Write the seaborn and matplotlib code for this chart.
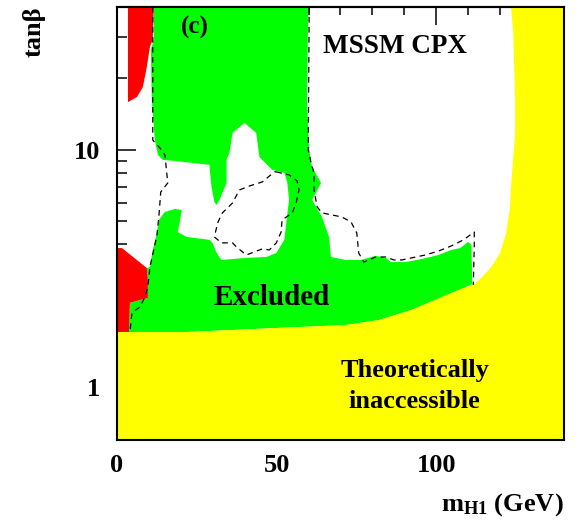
import numpy as np
import pandas as pd
import seaborn as sns
import matplotlib.pyplot as plt
from matplotlib.ticker import FixedLocator, FixedFormatter, MultipleLocator, LogLocator, NullFormatter

# boundaries: m_H1 (GeV) vs tan(beta)
yellow_x = [0, 140, 140, 123.4, 124.1, 124.7, 124.7, 123.4, 123.1, 121.9, 120.0, 117.2, 114.1, 111.6,
            108.5, 92.3, 82.0, 71.7, 50.8, 21.8, 0]
yellow_y = [0.6, 0.6, 40, 40, 31.1, 16.2, 11.8, 6.98, 5.75, 4.47, 3.68, 3.21, 2.89, 2.70,
            2.62, 2.12, 1.92, 1.83, 1.78, 1.71, 1.71]

green_x = [11.5, 59.9, 59.5, 60.2, 61.1, 63.9, 61.1, 64.2, 66.4, 67.0, 71.7, 76.4, 81.0, 84.2, 85.7,
           90.4, 95.4, 100.7, 104.7, 107.5, 110.0, 111.0, 111.3,
           108.5, 92.3, 82.0, 71.7, 50.8, 21.8, 3.7,
           4.05, 9.66, 9.66, 9.35, 10.3, 11.2, 12.5, 13.1, 15.0, 18.1, 20.3, 19.6, 19.0, 21.8,
           29.0, 29.9, 31.2, 32.7, 40.5, 46.8, 49.9, 52.4, 53.3, 53.9, 53.3, 52.4, 48.6, 44.6,
           43.6, 39.9, 36.2, 35.2, 34.3, 34.3, 32.1, 31.2, 30.5, 29.6, 29.0, 29.0,
           18.1, 14.3, 12.8, 11.85, 10.9, 10.6, 11.5]
green_y = [40, 40, 16.2, 10.0, 8.48, 7.26, 6.16, 5.22, 4.30, 3.54, 3.44, 3.44, 3.58, 3.51, 3.37,
           3.37, 3.47, 3.61, 3.79, 3.86, 4.10, 3.98, 2.72,
           2.62, 2.12, 1.92, 1.83, 1.78, 1.71, 1.71,
           2.27, 2.38, 2.83, 3.18, 3.21, 3.79, 4.47, 5.07, 5.48, 5.64, 5.59, 4.92, 4.51, 4.30,
           4.18, 4.06, 3.68, 3.44, 3.51, 3.54, 3.68, 4.18, 5.32, 6.16, 7.33, 8.0, 8.24, 9.34,
           11.8, 13.0, 11.8, 9.71, 9.08, 7.26, 6.16, 5.86, 6.04, 6.98, 8.40, 8.65,
           8.99, 9.08, 9.53, 11.0, 16.2, 26.4, 29.1]

red_top_x = [3.43, 11.5, 11.2, 10.3, 9.35, 8.1, 6.23, 3.43]
red_top_y = [40, 40, 29.1, 27.2, 22.4, 18.4, 16.7, 15.9]
red_low_x = [0, 1.56, 9.35, 9.66, 9.66, 4.05, 3.74, 0]
red_low_y = [3.86, 3.86, 3.18, 2.83, 2.38, 2.27, 1.71, 1.71]

# dashed expected-limit contours
dash_a_x = [11.2, 11.2, 13.4, 15.0, 15.9, 13.7, 13.1, 12.5, 11.85, 10.3, 9.66, 8.73, 7.17, 4.68, 4.05]
dash_a_y = [40, 11.0, 10.2, 9.53, 7.26, 6.65, 5.22, 4.38, 3.98, 3.21, 2.65, 2.40, 2.18, 2.06, 1.71]
dash_b_x = [49.9, 53.9, 56.4, 57.0, 56.1, 54.9, 51.7, 51.4, 49.9, 47.7, 45.5, 40.5, 37.4, 36.2,
            32.7, 30.5, 31.5, 33.0, 36.2, 38.3, 41.5, 45.5, 49.3, 49.9]
dash_b_y = [8.08, 7.85, 7.40, 6.78, 5.98, 5.43, 5.07, 4.51, 4.06, 3.79, 3.83, 3.61, 3.90, 4.06,
            4.06, 4.30, 4.92, 5.43, 5.98, 6.78, 7.05, 7.33, 8.08, 8.08]
dash_c_x = [60.2, 59.9, 60.8, 61.7, 61.7, 62.7, 64.2, 70.4, 73.3, 75.1, 75.7, 77.3, 81.0, 84.2,
            86.7, 89.2, 92.3, 96.6, 100.7, 104.7, 108.5, 111.9, 111.9, 111.6]
dash_c_y = [40, 10.0, 8.81, 8.0, 6.78, 5.75, 5.43, 5.22, 4.97, 4.47, 3.68, 3.37, 3.54, 3.54,
            3.44, 3.44, 3.51, 3.61, 3.75, 3.94, 4.18, 4.51, 3.90, 2.70]

sns.set_style("ticks")
plt.rcParams['font.family'] = ['Liberation Serif', 'DejaVu Serif']
plt.rcParams['font.weight'] = 'bold'
plt.rcParams['axes.labelweight'] = 'bold'
plt.rcParams['mathtext.fontset'] = 'custom'
plt.rcParams['mathtext.rm'] = 'Liberation Serif:bold'
plt.rcParams['mathtext.it'] = 'Liberation Serif:bold'
plt.rcParams['mathtext.bf'] = 'Liberation Serif:bold'
for k in ['text.color', 'axes.labelcolor', 'xtick.color', 'ytick.color', 'axes.edgecolor']:
    plt.rcParams[k] = 'black'

fig = plt.figure(figsize=(5.81, 5.22), dpi=100)
ax = fig.add_axes([0.2014, 0.1571, 0.7693, 0.8295])

ax.fill(green_x, green_y, color='#00ff00', lw=0)
ax.fill(red_top_x, red_top_y, color='#ff0000', lw=0)
ax.fill(red_low_x, red_low_y, color='#ff0000', lw=0)
ax.fill(yellow_x, yellow_y, color='#ffff00', lw=0)

for xs, ys in [(dash_a_x, dash_a_y), (dash_b_x, dash_b_y), (dash_c_x, dash_c_y)]:
    d = pd.DataFrame({'m': xs, 'tb': ys})
    sns.lineplot(data=d, x='m', y='tb', sort=False, estimator=None, ax=ax,
                 color='black', lw=0.9, dashes=False)
for ln in ax.lines:
    ln.set_dashes((4.5, 3.5))

ax.set_yscale('log')
ax.set_xlim(0, 140)
ax.set_ylim(0.6, 40)

# bottom axis: long ticks every 20, short every 5, labels at 0/50/100
xt = [0, 20, 40, 50, 60, 80, 100, 120, 140]
ax.xaxis.set_major_locator(FixedLocator(xt))
ax.xaxis.set_major_formatter(FixedFormatter(['0', '', '', '50', '', '', '100', '', '']))
ax.xaxis.set_minor_locator(MultipleLocator(5))
ax.yaxis.set_major_locator(FixedLocator([1, 10]))
ax.yaxis.set_major_formatter(FixedFormatter(['1', '10']))
ax.yaxis.set_minor_locator(LogLocator(base=10, subs=np.arange(2, 10)))
ax.yaxis.set_minor_formatter(NullFormatter())

ax.tick_params(axis='x', which='major', direction='in', length=9.4, width=1.1, labelsize=19, pad=10, top=False)
ax.tick_params(axis='x', which='minor', direction='in', length=5, width=1.1, top=False)
ax.tick_params(axis='y', which='major', direction='in', length=13.7, width=1.1, labelsize=19, pad=12, right=True)
ax.tick_params(axis='y', which='minor', direction='in', length=7.5, width=1.1, right=True)
ax.xaxis.get_major_ticks()[3].tick1line.set_markersize(5)

top = ax.secondary_xaxis('top')
top.xaxis.set_major_locator(FixedLocator([50, 100]))
top.xaxis.set_minor_locator(MultipleLocator(10))
top.tick_params(which='major', direction='in', length=13, width=1.1, labeltop=False)
top.tick_params(which='minor', direction='in', length=5.8, width=1.1)
top.spines['top'].set_linewidth(1.5)

for s in ax.spines.values():
    s.set_linewidth(1.5)
    s.set_visible(True)

ax.set_xlabel(r'$\mathrm{m}_{\mathrm{H1}}$ (GeV)', fontsize=19, loc='right')
ax.xaxis.set_label_coords(1.0, -0.118)
ax.set_ylabel('tanβ', fontsize=19, loc='top')
ax.yaxis.set_label_coords(-0.16, 1.0)

ax.text(24.3, 32.7, '(c)', fontsize=18, ha='center', va='center')
ax.text(87.0, 27.4, 'MSSM CPX', fontsize=19.5, ha='center', va='center')
ax.text(48.3, 2.40, 'Excluded', fontsize=21, ha='center', va='center')
ax.text(93.2, 1.18, 'Theoretically', fontsize=19, ha='center', va='center')
ax.text(93.2, 0.868, 'inaccessible', fontsize=19, ha='center', va='center')

fig.savefig('out.png', dpi=100)
